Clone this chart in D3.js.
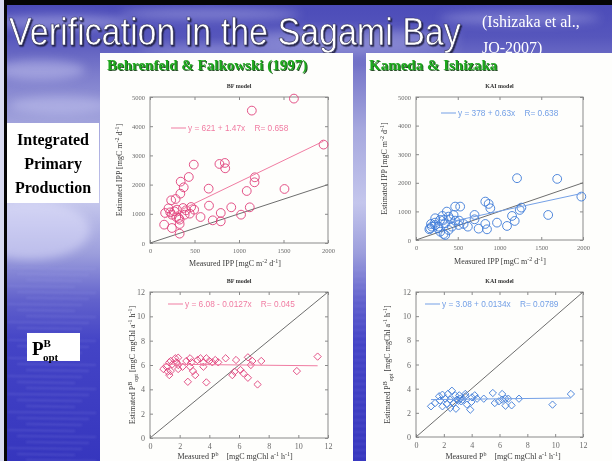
<!DOCTYPE html>
<html>
<head>
<meta charset="utf-8">
<script src="https://cdn.jsdelivr.net/npm/d3@7"></script>
<style>
  html, body { margin: 0; padding: 0; background: #000; }
  svg { display: block; }
</style>
</head>
<body>
<svg id="slide" width="612" height="461"></svg>
<script>
// ---------- data ----------
const ippTicksX = [0, 500, 1000, 1500, 2000];
const ippTicksY = [0, 1000, 2000, 3000, 4000, 5000];
const pbTicks = [0, 2, 4, 6, 8, 10, 12];

// Behrenfeld & Falkowski: integrated primary production (measured, estimated)
const bfIppMeasured = [1617, 1144, 1950, 492, 780, 841, 845, 436, 345, 379, 341, 659, 1087, 1178, 1174, 1511,
  288, 238, 663, 913, 1121, 462, 496, 405, 303, 208, 227, 170, 246, 159, 246, 322, 333, 333, 333, 568, 705,
  795, 795, 1023, 447, 390, 295, 371, 273];
const bfIppEstimated = [4945, 4534, 3370, 2684, 2707, 2741, 2558, 2261, 2101, 1907, 1690, 1861, 1781, 2250, 2079, 1850,
  1507, 1462, 1279, 1222, 1222, 1233, 1142, 1119, 1142, 1188, 1050, 1028, 970, 628, 514, 856, 800, 651, 320, 890, 776,
  1028, 742, 970, 1005, 970, 890, 1199, 1085];

// Kameda & Ishizaka: integrated primary production (measured, estimated)
const kaiIppMeasured = [1210, 1691, 1980, 1583, 830, 870, 890, 701, 701, 469, 529, 369, 317, 830, 850, 750, 621,
  970, 1090, 1150, 1182, 1242, 1262, 517, 469, 409, 349, 289, 228, 180, 160, 190, 230, 260, 290, 330, 350, 390,
  430, 270, 330, 390, 450, 230, 170, 510, 570];
const kaiIppEstimated = [2161, 2137, 1518, 876, 1343, 1261, 1110, 876, 724, 1168, 1168, 993, 841, 561, 374, 397, 467,
  607, 491, 841, 666, 1051, 1133, 677, 677, 724, 584, 701, 607, 561, 374, 467, 525, 409, 292, 210, 175, 350,
  467, 467, 700, 818, 876, 760, 409, 525, 560];

// Behrenfeld & Falkowski: P^B_opt (measured, estimated)
const bfPbMeasured = [0.9, 1.1, 1.3, 1.4, 1.5, 1.2, 1.3, 1.4, 1.7, 1.8, 1.9, 1.9, 2.2, 1.9, 2.45, 2.7, 2.8, 2.7,
  2.9, 2.55, 3.05, 3.2, 3.4, 3.6, 3.8, 4.0, 4.2, 4.4, 3.6, 3.8, 5.1, 5.8, 6.6, 6.9, 5.7, 6.1, 6.3, 6.6, 7.25,
  5.55, 6.8, 7.5, 9.9, 11.3, 4.6];
const bfPbEstimated = [5.67, 5.86, 6.22, 6.33, 6.05, 5.45, 5.17, 5.5, 6.55, 6.22, 6.0, 5.67, 5.86, 6.6, 6.33, 6.55,
  6.22, 5.86, 5.5, 4.62, 5.17, 6.41, 6.55, 6.22, 6.55, 6.33, 6.22, 6.41, 5.86, 4.57, 6.55, 6.41, 6.63, 6.33,
  5.45, 5.59, 5.31, 4.95, 4.4, 5.17, 6.0, 6.33, 5.5, 6.69, 6.22];

// Kameda & Ishizaka: P^B_opt (measured, estimated)
const kaiPbMeasured = [1.08, 1.37, 1.73, 1.9, 2.1, 1.9, 2.22, 2.29, 2.46, 2.58, 2.7, 2.87, 2.94, 3.06, 3.18, 3.25,
  3.35, 3.54, 3.66, 3.9, 3.98, 4.02, 4.22, 4.39, 3.54, 6.19, 5.66, 5.95, 5.52, 6.43, 6.63, 6.87, 6.43, 7.4,
  9.81, 11.13, 4.87, 2.82, 1.66, 3.11, 2.46, 6.19];
const kaiPbEstimated = [2.54, 2.81, 3.01, 3.5, 3.17, 2.54, 2.73, 3.56, 3.09, 3.83, 2.81, 2.34, 3.09, 3.01, 3.17, 2.95,
  3.09, 3.37, 2.68, 2.26, 2.9, 3.28, 3.45, 3.17, 3.56, 3.56, 2.81, 2.95, 3.64, 3.17, 3.17, 2.62, 2.59, 3.17,
  2.68, 3.56, 3.17, 3.45, 3.37, 3.45, 2.4, 3.09];

// regression fits printed in each legend: [intercept, slope, R]
const bfIppFit = [621, 1.47, "0.658"];
const kaiIppFit = [378, 0.63, "0.638"];
const bfPbFit = [6.08, -0.0127, "0.045"];
const kaiPbFit = [3.08, 0.0134, "0.0789"];

// ---------- slide ----------
const W = 612, H = 461;
const svg = d3.select("#slide");
const defs = svg.append("defs");

const bg = defs.append("linearGradient").attr("id", "bg")
  .attr("x1", 0).attr("y1", 0).attr("x2", 0).attr("y2", 1);
[[0, "#4a4ab8"], [0.08, "#5656bc"], [0.16, "#7c7ccc"], [0.28, "#a6a8de"], [0.44, "#c4c6ec"],
 [0.55, "#9c9edc"], [0.65, "#6262cc"], [0.74, "#4444c6"], [1, "#3636be"]]
  .forEach(([o, c]) => bg.append("stop").attr("offset", o).attr("stop-color", c));

defs.append("filter").attr("id", "soft").attr("x", "-50%").attr("y", "-50%").attr("width", "200%").attr("height", "200%")
  .append("feGaussianBlur").attr("stdDeviation", 5);
defs.append("filter").attr("id", "ripple").attr("x", "-20%").attr("y", "-200%").attr("width", "140%").attr("height", "500%")
  .append("feGaussianBlur").attr("stdDeviation", 0.8);
const shadow = defs.append("filter").attr("id", "shadow").attr("x", "-10%").attr("y", "-20%").attr("width", "120%").attr("height", "150%");
shadow.append("feDropShadow").attr("dx", 1.5).attr("dy", 1.5).attr("stdDeviation", 0.6)
  .attr("flood-color", "#1a1a40").attr("flood-opacity", 0.9);
const gshadow = defs.append("filter").attr("id", "gshadow");
gshadow.append("feDropShadow").attr("dx", 1).attr("dy", 1).attr("stdDeviation", 0.3)
  .attr("flood-color", "#0a3a0a").attr("flood-opacity", 0.9);

svg.append("rect").attr("width", W).attr("height", H).attr("fill", "url(#bg)");

// clouds in the sky band
const clouds = svg.append("g").attr("filter", "url(#soft)").attr("fill", "#e6e6ff");
[[60, 22, 70, 7, 0.35], [210, 14, 90, 6, 0.3], [350, 38, 110, 8, 0.3], [520, 18, 80, 6, 0.3],
 [40, 70, 45, 10, 0.35], [60, 105, 50, 9, 0.3], [300, 50, 160, 6, 0.25], [30, 230, 60, 30, 0.45]]
  .forEach(([cx, cy, rx, ry, o]) => clouds.append("ellipse")
    .attr("cx", cx).attr("cy", cy).attr("rx", rx).attr("ry", ry).attr("opacity", o));

// sea ripples
const ripples = svg.append("g").attr("filter", "url(#ripple)").attr("stroke", "#a8aaf0").attr("stroke-width", 1.2);
d3.range(268, 461, 6).forEach((y, i) => {
  ripples.append("line").attr("x1", 8 + (i % 3) * 9).attr("x2", 96 - (i % 4) * 7)
    .attr("y1", y).attr("y2", y + 1).attr("opacity", 0.3);
  ripples.append("line").attr("x1", 354).attr("x2", 366)
    .attr("y1", y + 2).attr("y2", y + 2).attr("opacity", 0.22);
});

// slide frame
svg.append("rect").attr("x", 0).attr("y", 0).attr("width", W).attr("height", 5).attr("fill", "#050505");
svg.append("rect").attr("x", 0).attr("y", 0).attr("width", 4).attr("height", H).attr("fill", "#d8daf0");
svg.append("rect").attr("x", 4).attr("y", 0).attr("width", 3).attr("height", H).attr("fill", "#050505");

// title, squeezed horizontally to its measured width
const title = svg.append("text").attr("x", 0).attr("y", 0)
  .attr("font-family", "'Liberation Sans', Arial, sans-serif").attr("font-size", 39)
  .attr("fill", "#ffffff").attr("stroke", "#30305a").attr("stroke-width", 0.6)
  .attr("filter", "url(#shadow)")
  .text("Verification in the Sagami Bay");
const natural = title.node().getComputedTextLength();
title.attr("transform", `translate(9,45) scale(${452 / natural},1)`);

const citeStyle = t => t.attr("font-family", "'Liberation Serif', 'Times New Roman', serif")
  .attr("font-size", 16).attr("fill", "#ffffff");
svg.append("text").attr("x", 482).attr("y", 27).call(citeStyle).text("(Ishizaka et al.,");
svg.append("text").attr("x", 482).attr("y", 53).call(citeStyle).text("JO-2007)");

// white panels
svg.append("rect").attr("x", 100).attr("y", 53).attr("width", 253).attr("height", H - 53).attr("fill", "#fefefc");
svg.append("rect").attr("x", 366).attr("y", 53).attr("width", W - 366).attr("height", H - 53).attr("fill", "#fefefc");

// model headings
const heading = (x, t) => svg.append("text").attr("x", x).attr("y", 70)
  .attr("font-family", "'Liberation Serif', 'Times New Roman', serif").attr("font-weight", "bold")
  .attr("font-size", 15).attr("fill", "#1ea81e").attr("filter", "url(#gshadow)").text(t);
heading(107, "Behrenfeld & Falkowski (1997)");
heading(369, "Kameda & Ishizaka");

// row labels
svg.append("rect").attr("x", 7).attr("y", 123).attr("width", 92).attr("height", 80).attr("fill", "#ffffff");
const rowLab = svg.append("text").attr("font-family", "'Liberation Serif', 'Times New Roman', serif")
  .attr("font-weight", "bold").attr("font-size", 16).attr("fill", "#000").attr("text-anchor", "middle");
[["Integrated", 145], ["Primary", 169], ["Production", 193]]
  .forEach(([t, y]) => rowLab.append("tspan").attr("x", 53).attr("y", y).text(t));
svg.append("rect").attr("x", 27).attr("y", 333).attr("width", 53).attr("height", 28).attr("fill", "#ffffff");
const pb = svg.append("text").attr("x", 32).attr("y", 355)
  .attr("font-family", "'Liberation Serif', 'Times New Roman', serif").attr("font-weight", "bold").attr("fill", "#000");
pb.append("tspan").attr("font-size", 19).text("P");
pb.append("tspan").attr("font-size", 11).attr("dy", -8).text("B");
pb.append("tspan").attr("font-size", 11).attr("dx", -8).attr("dy", 14).text("opt");

// ---------- scatter panels ----------
const serif = "'Liberation Serif', 'Times New Roman', serif";
const sans = "'Liberation Sans', Arial, sans-serif";

function labelParts(sel, parts) {
  parts.forEach(p => {
    const t = sel.append("tspan").text(p.t);
    if (p.sup) t.attr("baseline-shift", "super").attr("font-size", "75%");
    if (p.sub) t.attr("baseline-shift", "sub").attr("font-size", "75%");
  });
}

function panel(o) {
  const x = d3.scaleLinear().domain(o.xDomain).range([o.left, o.right]);
  const y = d3.scaleLinear().domain(o.yDomain).range([o.bottom, o.top]);
  const g = svg.append("g");

  // frame
  g.append("rect").attr("x", o.left).attr("y", o.top)
    .attr("width", o.right - o.left).attr("height", o.bottom - o.top)
    .attr("fill", "none").attr("stroke", "#8a8a8a").attr("stroke-width", 1);

  const fmt = d3.format("d");
  const styleAxis = a => {
    a.select(".domain").remove();
    a.selectAll(".tick line").attr("stroke", "#8a8a8a");
    a.selectAll(".tick text").attr("fill", "#6a6a6a").attr("font-family", serif).attr("font-size", o.tickFont);
  };
  g.append("g").attr("transform", `translate(0,${o.bottom})`)
    .call(d3.axisBottom(x).tickValues(o.xTicks).tickFormat(fmt).tickSize(-3).tickPadding(5)).call(styleAxis);
  g.append("g").attr("transform", `translate(${o.left},0)`)
    .call(d3.axisLeft(y).tickValues(o.yTicks).tickFormat(fmt).tickSize(-3).tickPadding(5)).call(styleAxis);
  g.append("g").attr("transform", `translate(0,${o.top})`)
    .call(d3.axisTop(x).tickValues(o.xTicks).tickSize(-3).tickFormat("")).call(styleAxis);
  g.append("g").attr("transform", `translate(${o.right},0)`)
    .call(d3.axisRight(y).tickValues(o.yTicks).tickSize(-3).tickFormat("")).call(styleAxis);

  // 1:1 line
  const lim = Math.min(o.xDomain[1], o.yDomain[1]);
  g.append("line").attr("x1", x(0)).attr("y1", y(0)).attr("x2", x(lim)).attr("y2", y(lim))
    .attr("stroke", "#6e6e6e").attr("stroke-width", 1);

  // points
  const pts = o.mx.map((v, i) => [v, o.my[i]]);
  if (o.shape === "circle") {
    g.selectAll("circle.pt").data(pts).join("circle").attr("class", "pt")
      .attr("cx", d => x(d[0])).attr("cy", d => y(d[1])).attr("r", 4.4)
      .attr("fill", "none").attr("stroke", o.color).attr("stroke-width", 0.9);
  } else {
    const dia = d3.symbol().type(d3.symbolDiamond2).size(34);
    g.selectAll("path.pt").data(pts).join("path").attr("class", "pt")
      .attr("transform", d => `translate(${x(d[0])},${y(d[1])})`)
      .attr("d", dia).attr("fill", "none").attr("stroke", o.color).attr("stroke-width", 0.9);
  }

  // regression line over the measured range
  const [a, b, r] = o.fit;
  const [x0, x1] = d3.extent(o.mx);
  g.append("line").attr("x1", x(x0)).attr("y1", y(a + b * x0)).attr("x2", x(x1)).attr("y2", y(a + b * x1))
    .attr("stroke", o.lineColor).attr("stroke-width", 1);

  // legend
  g.append("line").attr("x1", o.legX).attr("x2", o.legX + 15).attr("y1", o.legY).attr("y2", o.legY)
    .attr("stroke", o.lineColor).attr("stroke-width", 1);
  const sign = b < 0 ? "-" : "+";
  g.append("text").attr("x", o.legX + 17).attr("y", o.legY + 3)
    .attr("font-family", sans).attr("font-size", 8.3).attr("fill", o.lineColor)
    .attr("xml:space", "preserve")
    .text(`y = ${a} ${sign} ${Math.abs(b)}x    R= ${r}`);

  // title
  g.append("text").attr("x", (o.left + o.right) / 2).attr("y", o.top - 9).attr("text-anchor", "middle")
    .attr("font-family", serif).attr("font-weight", "bold").attr("font-size", 6).attr("fill", "#333")
    .text(o.title);

  // axis titles
  const xl = g.append("text").attr("x", o.xLabX).attr("y", o.xLabY).attr("text-anchor", "middle")
    .attr("font-family", serif).attr("font-size", 8).attr("fill", "#3a3a3a").attr("xml:space", "preserve");
  labelParts(xl, o.xLabel);
  const yl = g.append("text").attr("transform", `translate(${o.yLabX},${(o.top + o.bottom) / 2}) rotate(-90)`)
    .attr("text-anchor", "middle").attr("font-family", serif).attr("font-size", 8).attr("fill", "#3a3a3a")
    .attr("xml:space", "preserve");
  labelParts(yl, o.yLabel);
}

const ippX = [{ t: "Measured IPP [mgC m" }, { t: "-2", sup: true }, { t: " d" }, { t: "-1", sup: true }, { t: "]" }];
const ippY = [{ t: "Estimated IPP [mgC m" }, { t: "-2", sup: true }, { t: " d" }, { t: "-1", sup: true }, { t: "]" }];
const pbX = [{ t: "Measured P" }, { t: "b", sup: true }, { t: "    [mgC mgChl a" }, { t: "-1", sup: true }, { t: " h" }, { t: "-1", sup: true }, { t: "]" }];
const pbY = [{ t: "Estimated P" }, { t: "B", sup: true }, { t: "opt", sub: true }, { t: " [mgC mgChl a" }, { t: "-1", sup: true }, { t: " h" }, { t: "-1", sup: true }, { t: "]" }];

const pink = "#e0407a", pinkLine = "#f07ca2";
const blue = "#3d7ad8", blueLine = "#74a0e6";

panel({ left: 150, right: 328, top: 97, bottom: 243, xDomain: [0, 2000], yDomain: [0, 5000],
  xTicks: ippTicksX, yTicks: ippTicksY, tickFont: 6.5, mx: bfIppMeasured, my: bfIppEstimated,
  shape: "circle", color: pink, lineColor: pinkLine, fit: bfIppFit, legX: 171, legY: 128,
  title: "BF model", xLabel: ippX, yLabel: ippY, xLabX: 235, xLabY: 266, yLabX: 122 });
panel({ left: 416, right: 583, top: 97, bottom: 240, xDomain: [0, 2000], yDomain: [0, 5000],
  xTicks: ippTicksX, yTicks: ippTicksY, tickFont: 6.5, mx: kaiIppMeasured, my: kaiIppEstimated,
  shape: "circle", color: blue, lineColor: blueLine, fit: kaiIppFit, legX: 441, legY: 113,
  title: "KAI model", xLabel: ippX, yLabel: ippY, xLabX: 500, xLabY: 264, yLabX: 387 });
panel({ left: 150, right: 328, top: 292, bottom: 438, xDomain: [0, 12], yDomain: [0, 12],
  xTicks: pbTicks, yTicks: pbTicks, tickFont: 8, mx: bfPbMeasured, my: bfPbEstimated,
  shape: "diamond", color: pink, lineColor: pinkLine, fit: bfPbFit, legX: 168, legY: 304,
  title: "BF model", xLabel: pbX, yLabel: pbY, xLabX: 235, xLabY: 459, yLabX: 135 });
panel({ left: 416, right: 583, top: 292, bottom: 437, xDomain: [0, 12], yDomain: [0, 12],
  xTicks: pbTicks, yTicks: pbTicks, tickFont: 8, mx: kaiPbMeasured, my: kaiPbEstimated,
  shape: "diamond", color: blue, lineColor: blueLine, fit: kaiPbFit, legX: 425, legY: 304,
  title: "KAI model", xLabel: pbX, yLabel: pbY, xLabX: 503, xLabY: 459, yLabX: 390 });
</script>
</body>
</html>
